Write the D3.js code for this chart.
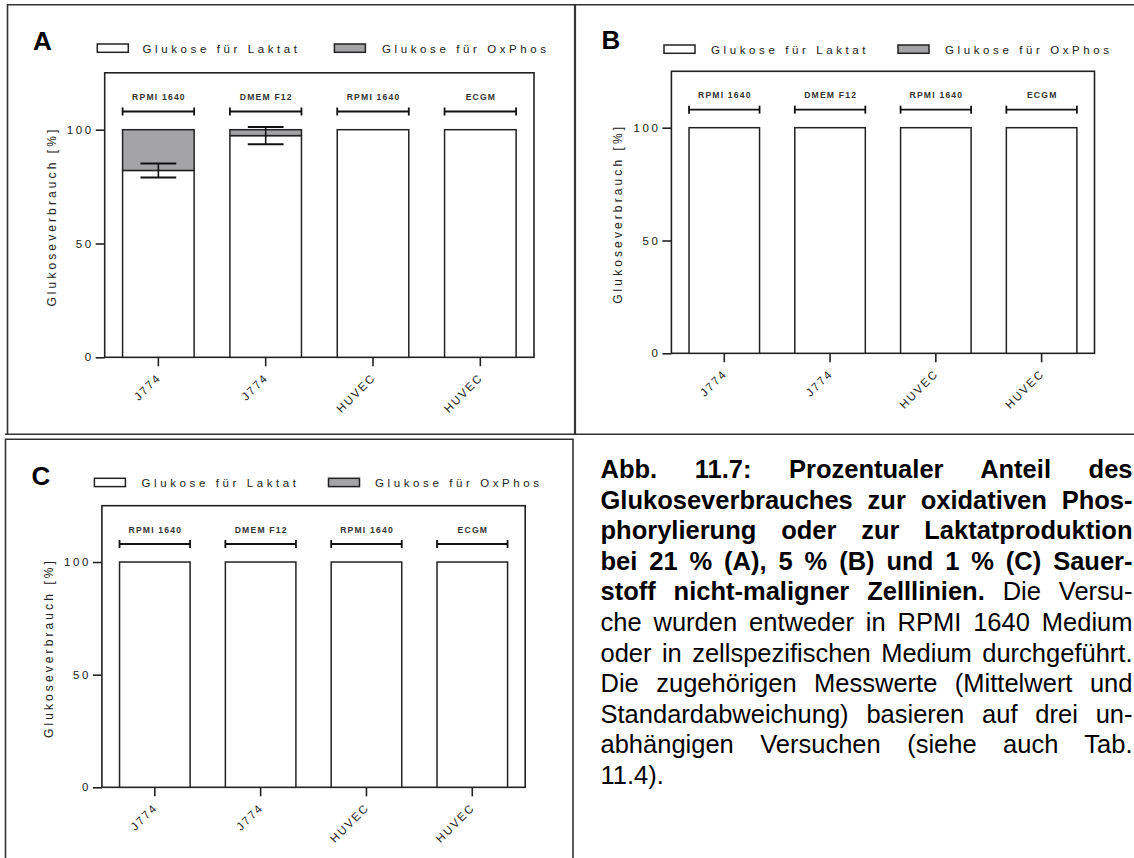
<!DOCTYPE html>
<html>
<head>
<meta charset="utf-8">
<script src="https://cdn.jsdelivr.net/npm/d3@7"></script>
<style>
  html, body { margin: 0; padding: 0; background: #fff; overflow: hidden; width: 1134px; height: 858px; }
  #fig { position: absolute; left: 0; top: 0; }
  #caption { position: absolute; left: 600.5px; top: 454px; width: 532px;
             font-family: "Liberation Sans", Arial, sans-serif; font-size: 25.5px; line-height: 30.6px; color: #000; }
  #caption div { white-space: nowrap; text-align: justify; text-align-last: justify; }
  #caption div.last { text-align: left; text-align-last: left; }
  #caption b { font-weight: bold; }
</style>
</head>
<body>
<svg id="fig" width="1134" height="858"></svg>
<div id="caption"></div>
<script>
// ---- data ----
const cellLines = ["J774", "J774", "HUVEC", "HUVEC"];
const media = ["RPMI 1640", "DMEM F12", "RPMI 1640", "ECGM"];
const seriesNames = ["Glukose für Laktat", "Glukose für OxPhos"];
const yTickValues = [0, 50, 100];
const yMax = 125;
const mediumBracketValue = 108;
const mediumLabelValue = 114.5;

// 21 % O2
const laktatA = [82.1, 97.4, 100, 100];
const oxphosA = [17.9, 2.6, 0, 0];
const sdA = [3.1, 3.8, 0, 0];
// 5 % O2
const laktatB = [100, 100, 100, 100];
const oxphosB = [0, 0, 0, 0];
const sdB = [0, 0, 0, 0];
// 1 % O2
const laktatC = [100, 100, 100, 100];
const oxphosC = [0, 0, 0, 0];
const sdC = [0, 0, 0, 0];

const axisTitle = "Glukoseverbrauch [%]";

const captionLines = [
  [["Abb. 11.7: Prozentualer Anteil des", true]],
  [["Glukoseverbrauches zur oxidativen Phos-", true]],
  [["phorylierung oder zur Laktatproduktion", true]],
  [["bei 21 % (A), 5 % (B) und 1 % (C) Sauer-", true]],
  [["stoff nicht-maligner Zelllinien.", true], [" Die Versu-", false]],
  [["che wurden entweder in RPMI 1640 Medium", false]],
  [["oder in zellspezifischen Medium durchgeführt.", false]],
  [["Die zugehörigen Messwerte (Mittelwert und", false]],
  [["Standardabweichung) basieren auf drei un-", false]],
  [["abhängigen Versuchen (siehe auch Tab.", false]],
  [["11.4).", false]]
];

// ---- layout of the three panels ----
const panels = [
  { letter: "A", laktat: laktatA, oxphos: oxphosA, sd: sdA,
    left: 104.7, right: 534, bottom: 357.3, top: 72.8,
    legendY: 44, rect1X: 97.3, text1X: 142.5, rect2X: 334.4, text2X: 382,
    letterX: 33, letterY: 49.5 },
  { letter: "B", laktat: laktatB, oxphos: oxphosB, sd: sdB,
    left: 671.4, right: 1094.5, bottom: 353.3, top: 71.3,
    legendY: 45, rect1X: 664, text1X: 711, rect2X: 898, text2X: 945,
    letterX: 601.5, letterY: 49.3 },
  { letter: "C", laktat: laktatC, oxphos: oxphosC, sd: sdC,
    left: 101.9, right: 525.2, bottom: 787.3, top: 505.7,
    legendY: 478.3, rect1X: 94.4, text1X: 141.5, rect2X: 328.5, text2X: 375,
    letterX: 31.5, letterY: 485 }
];

const FONT = "'Liberation Sans', Arial, Helvetica, sans-serif";
const INK = "#222";
const GREY = "#a4a4a7";
const seriesFill = { laktat: "#fff", oxphos: GREY };

const svg = d3.select("#fig");

// panel frames
const frames = svg.append("g").attr("fill", "none").attr("stroke", "#333").attr("stroke-width", 1.6);
frames.append("path").attr("d", "M7.5,434.3 V4.8 H1140");          // A left + top
frames.append("path").attr("d", "M5,434.3 H1140");                 // A/B bottom
frames.append("path").attr("d", "M575,4.8 V434.3").attr("stroke-width", 2.2); // A|B divider
frames.append("path").attr("d", "M5.5,870 V439.2 H573 V870");     // C box

panels.forEach(p => {
  const g = svg.append("g");
  const x = d3.scaleBand().domain(d3.range(cellLines.length))
    .range([p.left, p.right]).paddingInner(1 / 3).paddingOuter(1 / 6);
  const y = d3.scaleLinear().domain([0, yMax]).range([p.bottom, p.top]);

  // plot frame
  g.append("rect")
    .attr("x", p.left).attr("y", p.top)
    .attr("width", p.right - p.left).attr("height", p.bottom - p.top)
    .attr("fill", "none").attr("stroke", INK).attr("stroke-width", 1.6);

  // stacked bars: Laktat (white) below, OxPhos (grey) above
  const rows = cellLines.map((c, i) => ({ i, laktat: p.laktat[i], oxphos: p.oxphos[i] }));
  const stacked = d3.stack().keys(["laktat", "oxphos"])(rows);
  g.append("g").attr("stroke", INK).attr("stroke-width", 1.5)
    .selectAll("g").data(stacked).join("g")
    .attr("fill", s => seriesFill[s.key])
    .selectAll("rect").data(s => s.filter(d => d[1] > d[0])).join("rect")
    .attr("x", d => x(d.data.i)).attr("width", x.bandwidth())
    .attr("y", d => y(d[1])).attr("height", d => y(d[0]) - y(d[1]));

  // error bars (SD of the Laktat share)
  const cap = x.bandwidth() * 0.5;
  const eb = g.append("g").attr("stroke", "#111").attr("stroke-width", 2).attr("fill", "none");
  p.sd.forEach((s, i) => {
    if (s <= 0) return;
    const cx = x(i) + x.bandwidth() / 2;
    const m = p.laktat[i];
    eb.append("line").attr("x1", cx).attr("x2", cx).attr("y1", y(m + s)).attr("y2", y(m - s)).attr("stroke-width", 1.6);
    eb.append("line").attr("x1", cx - cap / 2).attr("x2", cx + cap / 2).attr("y1", y(m + s)).attr("y2", y(m + s));
    eb.append("line").attr("x1", cx - cap / 2).attr("x2", cx + cap / 2).attr("y1", y(m - s)).attr("y2", y(m - s));
  });

  // medium brackets with labels
  const br = g.append("g").attr("stroke", "#111").attr("stroke-width", 1.8);
  media.forEach((m, i) => {
    const x0 = x(i), x1 = x(i) + x.bandwidth(), yy = y(mediumBracketValue);
    br.append("line").attr("x1", x0).attr("x2", x1).attr("y1", yy).attr("y2", yy);
    br.append("line").attr("x1", x0).attr("x2", x0).attr("y1", yy - 4).attr("y2", yy + 4);
    br.append("line").attr("x1", x1).attr("x2", x1).attr("y1", yy - 4).attr("y2", yy + 4);
  });
  g.append("g").selectAll("text").data(media).join("text")
    .attr("x", (d, i) => x(i) + x.bandwidth() / 2 + 0.6)
    .attr("y", y(mediumLabelValue) + 3.2)
    .attr("text-anchor", "middle")
    .attr("font-family", FONT).attr("font-size", 8.6).attr("letter-spacing", 1.2)
    .attr("fill", "#333").attr("font-weight", "bold")
    .text(d => d);

  // y axis
  const ya = g.append("g").attr("transform", `translate(${p.left},0)`)
    .call(d3.axisLeft(y).tickValues(yTickValues).tickSize(9).tickSizeOuter(0).tickPadding(2));
  ya.select(".domain").remove();
  ya.selectAll(".tick line").attr("stroke", INK).attr("stroke-width", 1.6);
  ya.selectAll(".tick text").attr("font-family", FONT).attr("font-size", 11.5)
    .attr("letter-spacing", 2.6).attr("fill", INK);

  // x axis ticks + rotated category labels
  const xa = g.append("g").attr("transform", `translate(0,${p.bottom})`)
    .call(d3.axisBottom(x).tickSize(9).tickSizeOuter(0).tickFormat(() => ""));
  xa.select(".domain").remove();
  xa.selectAll(".tick line").attr("stroke", INK).attr("stroke-width", 1.6);
  g.append("g").selectAll("text").data(cellLines).join("text")
    .attr("transform", (d, i) => `translate(${x(i) + x.bandwidth() / 2 + 3.5},${p.bottom + 21}) rotate(-45)`)
    .attr("text-anchor", "end")
    .attr("font-family", FONT).attr("font-size", 11.5).attr("letter-spacing", 1.9)
    .attr("fill", INK)
    .text(d => d);

  // y axis title
  const cy = (p.top + p.bottom) / 2 + 1.5;
  g.append("text")
    .attr("transform", `translate(${p.left - 49},${cy}) rotate(-90)`)
    .attr("text-anchor", "middle")
    .attr("font-family", FONT).attr("font-size", 12).attr("letter-spacing", 3.1)
    .attr("fill", INK)
    .text(axisTitle);

  // legend
  const lg = g.append("g");
  const swatches = [{ x: p.rect1X, fill: seriesFill.laktat }, { x: p.rect2X, fill: seriesFill.oxphos }];
  lg.selectAll("rect").data(swatches).join("rect")
    .attr("x", d => d.x).attr("y", p.legendY).attr("width", 31).attr("height", 8.3)
    .attr("fill", d => d.fill).attr("stroke", INK).attr("stroke-width", 1.5);
  lg.selectAll("text").data(seriesNames).join("text")
    .attr("x", (d, i) => i === 0 ? p.text1X : p.text2X)
    .attr("y", p.legendY + 8.6)
    .attr("font-family", FONT).attr("font-size", 11.5).attr("letter-spacing", 3.6)
    .attr("fill", INK)
    .text(d => d);

  // panel letter
  g.append("text").attr("x", p.letterX).attr("y", p.letterY)
    .attr("font-family", FONT).attr("font-size", 26).attr("font-weight", "bold")
    .attr("fill", "#000").text(p.letter);
});

// figure caption
const capDiv = d3.select("#caption");
captionLines.forEach((runs, i) => {
  const line = capDiv.append("div").classed("last", i === captionLines.length - 1);
  runs.forEach(([t, bold]) => {
    if (bold) line.append("b").text(t);
    else line.append("span").text(t);
  });
});
</script>
</body>
</html>
